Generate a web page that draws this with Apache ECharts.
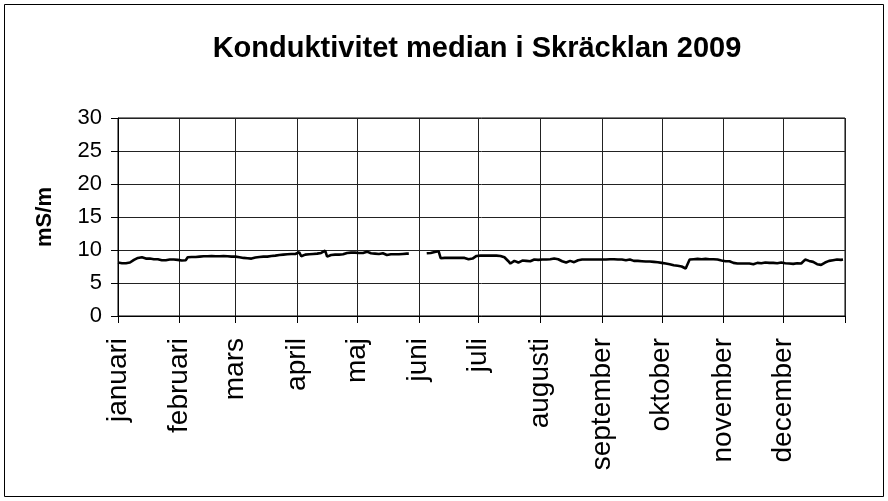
<!DOCTYPE html>
<html>
<head>
<meta charset="utf-8">
<script src="https://cdn.jsdelivr.net/npm/echarts@6/dist/echarts.min.js"></script>
<style>
  html, body { margin: 0; padding: 0; background: #fff; }
  #chart { width: 888px; height: 501px; }
</style>
</head>
<body>
<div id="chart"></div>
<script>
// Month names shown on the x axis
const monthNames = ['januari', 'februari', 'mars', 'april', 'maj', 'juni',
  'juli', 'augusti', 'september', 'oktober', 'november', 'december'];
const daysInMonth = [31, 28, 31, 30, 31, 30, 31, 31, 30, 31, 30, 31];

// Y axis ticks
const yMin = 0, yMax = 30, yStep = 5;

// Daily median conductivity (mS/m), one array per month; null = no measurement
const jan = [8.1, 8.0, 8.0, 8.0, 8.0, 8.0, 8.1, 8.3, 8.5, 8.7, 8.8, 8.9, 8.9, 8.85, 8.7, 8.65,
  8.7, 8.65, 8.6, 8.65, 8.6, 8.55, 8.45, 8.4, 8.45, 8.5, 8.55, 8.5, 8.55, 8.5, 8.5];
const feb = [8.45, 8.4, 8.4, 8.45, 8.9, 8.95, 8.95, 9.0, 8.95, 9.0, 9.0, 9.0, 9.05, 9.0,
  9.05, 9.05, 9.1, 9.1, 9.05, 9.1, 9.05, 9.05, 9.1, 9.05, 9.05, 9.0, 9.0, 9.0];
const mar = [9.0, 8.95, 8.9, 8.85, 8.8, 8.8, 8.75, 8.7, 8.7, 8.75, 8.85, 8.9, 8.95, 8.95, 9.0,
  8.95, 9.0, 9.05, 9.1, 9.1, 9.15, 9.2, 9.25, 9.3, 9.3, 9.35, 9.35, 9.35, 9.4, 9.35, 9.4];
const apr = [9.45, 9.65, 9.05, 9.2, 9.3, 9.35, 9.35, 9.4, 9.4, 9.45, 9.45, 9.5, 9.55, 9.75, 9.9,
  9.0, 9.05, 9.25, 9.3, 9.3, 9.35, 9.3, 9.3, 9.35, 9.4, 9.55, 9.6, 9.6, 9.55, 9.6];
const may = [9.55, 9.55, 9.55, 9.55, 9.65, 9.75, 9.7, 9.5, 9.45, 9.45, 9.45, 9.4, 9.6, 9.5,
  9.25, 9.25, 9.3, 9.35, 9.35, 9.35, 9.4, 9.35, 9.4, 9.4, 9.4, 9.45, 9.45, null, null, null, null];
const jun = [null, null, null, null, 9.5, 9.5, 9.55, 9.6, 9.7, 9.85, 9.8, 8.75, 8.75, 8.8, 8.8,
  8.8, 8.8, 8.8, 8.8, 8.8, 8.8, 8.8, 8.75, 8.8, 8.75, 8.6, 8.55, 8.7, 9.0, 9.1];
const jul = [9.15, 9.15, 9.2, 9.15, 9.15, 9.15, 9.15, 9.15, 9.1, 9.15, 9.1, 9.1, 9.0, 8.9, 8.6,
  8.3, 7.95, 8.05, 8.35, 8.3, 8.1, 8.2, 8.4, 8.45, 8.35, 8.2, 8.3, 8.5, 8.55, 8.55, 8.5];
const aug = [8.55, 8.55, 8.5, 8.55, 8.55, 8.6, 8.55, 8.7, 8.85, 8.6, 8.4, 8.3, 8.15, 8.1, 8.3,
  8.35, 8.2, 8.15, 8.35, 8.45, 8.55, 8.55, 8.5, 8.55, 8.55, 8.55, 8.5, 8.55, 8.55, 8.55, 8.6];
const sep = [8.55, 8.6, 8.55, 8.55, 8.6, 8.7, 8.6, 8.55, 8.55, 8.55, 8.55, 8.5, 8.45, 8.5, 8.55,
  8.4, 8.35, 8.35, 8.35, 8.5, 8.3, 8.25, 8.25, 8.2, 8.25, 8.2, 8.2, 8.15, 8.15, 8.1];
const oct = [8.05, 8.0, 7.95, 7.9, 7.85, 7.75, 7.7, 7.65, 7.6, 7.55, 7.5, 7.4, 7.2, 7.05, 8.55,
  8.6, 8.6, 8.65, 8.65, 8.65, 8.6, 8.65, 8.65, 8.65, 8.6, 8.65, 8.6, 8.6, 8.55, 8.5, 8.4];
const nov = [8.35, 8.3, 8.3, 8.3, 8.2, 8.05, 8.0, 7.95, 8.0, 7.95, 8.0, 7.95, 7.95, 7.95, 7.9,
  7.85, 8.0, 8.05, 8.05, 8.0, 8.05, 8.1, 8.05, 8.05, 8.0, 8.05, 8.05, 8.0, 8.05, 8.1];
const dec = [8.15, 8.0, 7.95, 7.95, 7.95, 7.9, 7.95, 8.0, 7.95, 7.95, 8.15, 8.55, 8.5, 8.35, 8.35,
  8.2, 7.95, 7.85, 7.75, 7.75, 7.8, 8.1, 8.35, 8.35, 8.4, 8.45, 8.5, 8.55, 8.55, 8.5, 8.55];

// Category list: every day of 2009 plus 1 January 2010 as the closing tick
const dates = [];
daysInMonth.forEach(function (n, m) {
  for (let d = 1; d <= n; d++) {
    dates.push('2009-' + String(m + 1).padStart(2, '0') + '-' + String(d).padStart(2, '0'));
  }
});
dates.push('2010-01-01');

const values = [].concat(jan, feb, mar, apr, may, jun, jul, aug, sep, oct, nov, dec, [null]);

const isMonthStart = function (index, value) {
  return dates[index].slice(8) === '01';
};

const font = 'Liberation Sans, Arial, sans-serif';

const chart = echarts.init(document.getElementById('chart'), null, { renderer: 'canvas' });
chart.setOption({
  animation: false,
  backgroundColor: '#fff',
  title: {
    text: 'Konduktivitet median i Skräcklan 2009',
    left: 472,
    top: 29,
    textAlign: 'center',
    textStyle: { fontFamily: font, fontWeight: 'bold', fontSize: 29, color: '#000' }
  },
  graphic: [{
    type: 'rect',
    shape: { x: 4.5, y: 4.5, width: 879, height: 492 },
    style: { fill: 'none', stroke: '#000', lineWidth: 1 },
    silent: true
  }],
  grid: {
    left: 118, right: 43, top: 118, bottom: 185,
    show: true, borderColor: '#000', borderWidth: 1, backgroundColor: 'transparent'
  },
  xAxis: {
    type: 'category',
    data: dates,
    boundaryGap: false,
    axisLine: { lineStyle: { color: '#000', width: 1 } },
    axisTick: { show: true, interval: isMonthStart, length: 7, inside: false,
      lineStyle: { color: '#000' } },
    splitLine: { show: true, interval: isMonthStart, lineStyle: { color: '#222', width: 1 } },
    axisLabel: {
      interval: isMonthStart,
      rotate: 90,
      margin: 22,
      fontFamily: font,
      fontSize: 28,
      color: '#000',
      formatter: function (value) {
        if (value.slice(0, 4) !== '2009') return '';
        return monthNames[parseInt(value.slice(5, 7), 10) - 1];
      }
    }
  },
  yAxis: {
    type: 'value',
    min: yMin, max: yMax, interval: yStep,
    name: 'mS/m',
    nameLocation: 'middle',
    nameRotate: 90,
    nameGap: 62,
    nameTextStyle: { fontFamily: font, fontWeight: 'bold', fontSize: 22, color: '#000' },
    axisLine: { show: true, lineStyle: { color: '#000', width: 1 } },
    axisTick: { show: true, length: 7, lineStyle: { color: '#000' } },
    splitLine: { show: true, lineStyle: { color: '#222', width: 1 } },
    axisLabel: { fontFamily: font, fontSize: 22, color: '#000', margin: 16 }
  },
  series: [{
    type: 'line',
    data: values,
    showSymbol: false,
    connectNulls: false,
    lineStyle: { color: '#000', width: 2.6 },
    itemStyle: { color: '#000' }
  }]
});
</script>
</body>
</html>
